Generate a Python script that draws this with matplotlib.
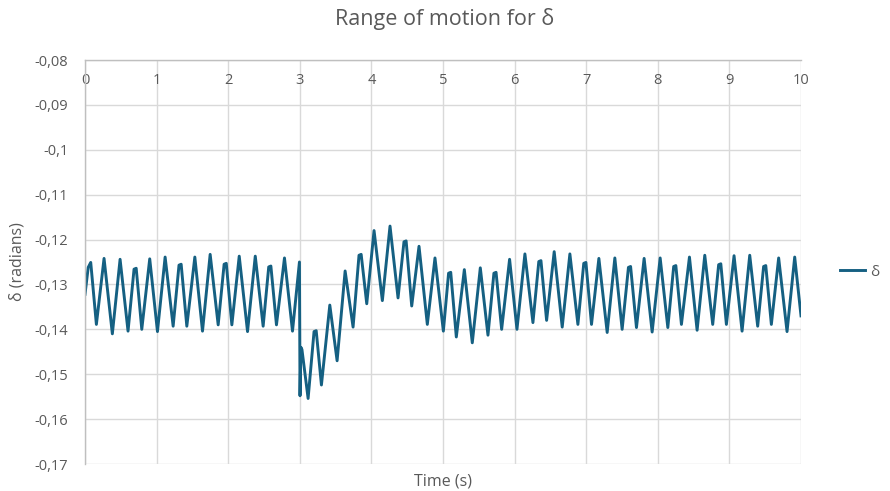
import matplotlib
matplotlib.use("Agg")
import matplotlib.pyplot as plt
from matplotlib.ticker import FixedLocator

plt.rcParams['font.family'] = ['Open Sans', 'DejaVu Sans']

# Data (time in s, delta in radians) - extrema of the trace
time_s = [
    0.000, 0.045, 0.080, 0.159, 0.266, 0.382, 0.490, 0.601, 0.685, 0.715, 0.793, 0.904,
    1.012, 1.119, 1.231, 1.313, 1.343, 1.422, 1.534, 1.641, 1.748, 1.860, 1.943, 1.973,
    2.051, 2.154, 2.270, 2.378, 2.488, 2.566, 2.596, 2.674, 2.786, 2.898, 2.995,
    3.003, 3.015, 3.030, 3.116, 3.199, 3.229, 3.302, 3.419, 3.521, 3.633, 3.744, 3.827, 3.857,
    3.935, 4.037, 4.153, 4.260, 4.372, 4.455, 4.485, 4.563, 4.665, 4.781, 4.888,
    5.005, 5.078, 5.108, 5.186, 5.298, 5.409, 5.521, 5.628, 5.711, 5.741, 5.819, 5.930,
    6.033, 6.144, 6.256, 6.338, 6.368, 6.447, 6.553, 6.665, 6.772, 6.884, 6.966, 6.996,
    7.074, 7.177, 7.293, 7.400, 7.502, 7.590, 7.620, 7.702, 7.809, 7.921,
    8.033, 8.140, 8.222, 8.252, 8.330, 8.442, 8.549, 8.656, 8.767, 8.850, 8.880, 8.958,
    9.065, 9.177, 9.284, 9.395, 9.478, 9.508, 9.586, 9.688, 9.805, 9.912, 10.000,
]
delta_rad = [
    -0.1322, -0.1262, -0.1251, -0.1389, -0.1242, -0.1410, -0.1244, -0.1404, -0.1266, -0.1264, -0.1400, -0.1243,
    -0.1405, -0.1239, -0.1393, -0.1257, -0.1255, -0.1393, -0.1239, -0.1404, -0.1233, -0.1390, -0.1255, -0.1253,
    -0.1390, -0.1237, -0.1405, -0.1237, -0.1393, -0.1261, -0.1259, -0.1390, -0.1241, -0.1404, -0.1250,
    -0.1548, -0.1440, -0.1445, -0.1554, -0.1405, -0.1403, -0.1524, -0.1346, -0.1470, -0.1270, -0.1395, -0.1235, -0.1233,
    -0.1343, -0.1180, -0.1336, -0.1170, -0.1330, -0.1205, -0.1203, -0.1348, -0.1215, -0.1389, -0.1241,
    -0.1404, -0.1275, -0.1273, -0.1417, -0.1267, -0.1430, -0.1263, -0.1413, -0.1275, -0.1273, -0.1400, -0.1244,
    -0.1400, -0.1232, -0.1385, -0.1249, -0.1247, -0.1380, -0.1227, -0.1395, -0.1232, -0.1389, -0.1253, -0.1251,
    -0.1389, -0.1242, -0.1407, -0.1241, -0.1400, -0.1262, -0.1260, -0.1396, -0.1242, -0.1406,
    -0.1241, -0.1396, -0.1260, -0.1258, -0.1389, -0.1239, -0.1402, -0.1235, -0.1389, -0.1256, -0.1254, -0.1389,
    -0.1236, -0.1404, -0.1235, -0.1393, -0.1260, -0.1258, -0.1389, -0.1241, -0.1405, -0.1239, -0.1370,
]

x_ticks = [0, 1, 2, 3, 4, 5, 6, 7, 8, 9, 10]
y_ticks = [-0.17, -0.16, -0.15, -0.14, -0.13, -0.12, -0.11, -0.10, -0.09, -0.08]
y_tick_labels = ['-0,17', '-0,16', '-0,15', '-0,14', '-0,13', '-0,12', '-0,11', '-0,1', '-0,09', '-0,08']

line_color = '#156082'
grid_color = '#D9D9D9'
text_color = '#595959'

fig = plt.figure(figsize=(8.9, 4.91), dpi=100)
ax = fig.add_axes([85/890, 1 - 464/491, (801-85)/890, (464-60)/491])

ax.plot(time_s, delta_rad, color=line_color, lw=2.1, label='δ', solid_joinstyle='round')

ax.set_xlim(0, 10)
ax.set_ylim(-0.17, -0.08)
ax.xaxis.set_major_locator(FixedLocator(x_ticks))
ax.set_yticks(y_ticks)
ax.set_yticklabels(y_tick_labels)
ax.set_xticklabels([str(v) for v in x_ticks])

ax.grid(True, color=grid_color, lw=1.0)
ax.set_axisbelow(True)
for s in ['right', 'bottom']:
    ax.spines[s].set_visible(False)
for s in ['left', 'top']:
    ax.spines[s].set_color('#BFBFBF')
    ax.spines[s].set_linewidth(1.0)

ax.tick_params(axis='y', length=0, pad=12, labelsize=10.5, labelcolor=text_color)
ax.tick_params(axis='x', top=True, labeltop=True, bottom=False, labelbottom=False,
               length=0, pad=-9, labelsize=10.5, labelcolor=text_color)
for lab in ax.get_xticklabels():
    lab.set_verticalalignment('top')

fig.text(443/890, 1 - 481/491, 'Time (s)', ha='center', va='center', fontsize=11.5, color=text_color)
fig.text(18/890, 1 - 262/491, 'δ (radians)', ha='center', va='center', rotation=90, fontsize=11.5, color=text_color)
fig.text(445/890, 1 - 19/491, 'Range of motion for δ', ha='center', va='center', fontsize=15.5, color=text_color)

leg = fig.legend(loc='center left', bbox_to_anchor=(834/890, 1 - 272/491), frameon=False,
                 fontsize=11, handlelength=1.6, handletextpad=0.35, borderaxespad=0)
for t in leg.get_texts():
    t.set_color(text_color)

fig.savefig('out.png', dpi=100)
